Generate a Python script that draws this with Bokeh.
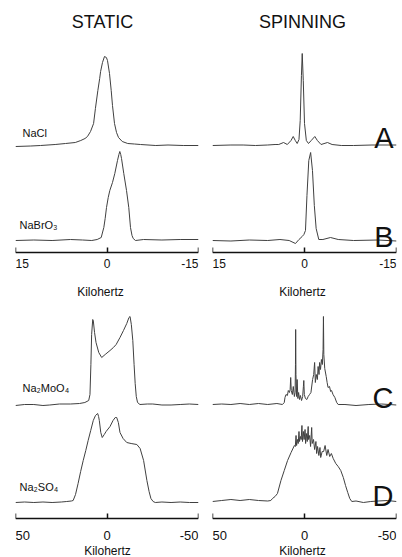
from bokeh.plotting import figure
from bokeh.models import Range1d, FixedTicker, Label, LinearAxis
from bokeh.layouts import column, row
from bokeh.embed import file_html
from bokeh.resources import INLINE

# ---------------- data (kHz, intensity above own baseline) ----------------
nacl_static_khz = [15, 12.5, 10.9, 8.5, 6.8, 5.2, 4.3, 3.6, 3.2, 2.7, 2.2, 1.9, 1.5, 1.2, 1.05, 0.74, 0.41, 0.1, -0.08, -0.41,
                   -0.69, -0.9, -1.23, -1.56, -1.89, -2.5, -3.4, -4.5, -5.5, -8, -10, -12.5, -15]
nacl_static_int = [0, 0.5, 1, 2, 3, 4, 6, 8, 10, 15, 23, 38, 56, 68, 75, 84, 90, 89, 86, 73,
                   56, 41, 23, 14, 9, 5, 3, 2.5, 2, 1, 1.5, 1, 1]

nabro3_static_khz = [15, 12, 9, 6, 4, 2.5, 1.61, 0.95, 0.52, 0.3, 0.08, -0.2, -0.46, -0.9, -1.28, -1.72, -1.95, -2.1, -2.25, -2.38,
                     -2.75, -3.2, -3.57, -3.85, -4.1, -4.3, -4.67, -6, -9, -12, -15]
nabro3_static_int = [0, 0.5, 0, 1, 0.5, 0, 1, 3, 13, 22, 33, 43, 50, 58, 67, 80, 86, 89, 86, 82,
                     67, 50, 33, 13, 5, 2, 0, 1, 0.5, 1, 1]

nacl_spin_khz = [15, 12, 10, 8, 6, 4.8, 4.2, 3.42, 2.8, 2.2, 1.84, 1.5, 1.19, 0.9, 0.7, 0.5, 0.37, 0.2, 0.0, -0.3,
                 -0.65, -1.1, -1.68, -2.1, -2.7, -3.75, -4.5, -6, -8, -11, -15]
nacl_spin_int = [0, 0.5, 0.5, 0, 0.5, 1, 1, 3, 1, 5, 9, 5, 2, 6, 25, 70, 92, 65, 22, 5,
                 2, 5, 9, 5, 1, 3, 1, 0, 0, 0.5, 0.5]

nabro3_spin_khz = [15, 12, 9, 6, 4, 2.5, 1.47, 0.9, 0.38, 0.1, -0.16, -0.4, -0.7, -1.0, -1.3, -1.6, -1.9, -2.33, -3.0, -4.24,
                   -5.5, -8, -12, -15]
nabro3_spin_int = [0, -0.5, 0.5, 0, 1, 0, -3, 1, 4, 6, 10, 45, 80, 88, 70, 35, 12, 1, 1, 3,
                   1, 0, 0.5, -0.5]

na2moo4_static_khz = [50, 45, 40, 35, 31.3, 26, 20, 15, 12.1, 10, 9.3, 8.8, 8.4, 7.8, 7.5, 6.8, 6.0, 4.5, 2.9, 1.0,
                      -1.65, -3.5, -5, -7.1, -9, -10.8, -12, -12.6, -13.3, -14.1, -14.8, -15.4, -16, -16.7, -18, -22, -25, -30, -35, -40,
                      -45, -50]
na2moo4_static_int = [-1, 0, 0, -1, -0.5, 0.5, 0.5, 1, 2, 4, 10, 40, 70, 85, 84, 72, 62, 52, 47, 50,
                      54, 57, 60, 67, 74, 81, 87, 88, 80, 64, 40, 21, 8, 2, 0, 0.5, 0.5, -0.5, -0.5, 0,
                      0.5, 0]

na2so4_static_khz = [50, 45, 40, 35, 30, 25, 22, 19.5, 18.5, 17.2, 15.8, 14.4, 13.0, 11.6, 10.3, 8.9, 7.5, 6.3, 5.1, 4.6,
                     4.2, 3.4, 2.6, 1.5, 0.5, -1.65, -3.3, -4.5, -5.3, -6.2, -7.1, -8.8, -10.8, -13.2, -16.3, -18.1, -20.0, -21.8, -23, -24.0,
                     -25.2, -26.4, -30, -35, -40, -45, -50]
na2so4_static_int = [0, 0.5, 0, 0.5, 0, 0.5, 1, 1.5, 2, 8, 19, 31, 42, 52, 62, 72, 82, 87, 89, 86,
                     82, 70, 65, 68, 71, 76, 82, 85, 85, 80, 70, 64, 60, 59, 58, 54, 42, 22, 11, 4,
                     1, 0, 0.5, 0, 0.5, 0, 0]

na2moo4_spin_khz = [50, 45, 40, 35, 30, 25, 20, 15, 12, 11, 10.6, 10.05, 9.3, 8.8, 8.2, 7.8, 7.5, 7.2, 6.6, 6.1,
                    5.5, 5.1, 4.9, 4.8, 4.65, 4.3, 4.0, 3.6, 3.2, 2.7, 2.2, 1.6, 1.0, 0.6, 0.38, 0.1, -0.5, -1.27, -2.0, -2.75,
                    -3.5, -4.4, -5.0, -5.5, -5.9, -6.4, -7.0, -7.4, -7.9, -8.2, -8.7, -9.2, -9.7, -10.1, -10.3, -10.5, -11.0, -11.8, -12.3, -12.8,
                    -13.6, -14.2, -14.7, -15.5, -16.5, -17.5, -18.3, -22, -28, -35, -42, -50]
na2moo4_spin_int = [0, 0.5, 0, 1, 0, 1, 0, 1, 0, 2, 7, 10, 9, 14, 12, 15, 27, 14, 10, 18,
                    8, 12, 40, 75, 30, 8, 25, 6, 12, 5, 9, 4, 8, 18, 24, 10, 6, 5, 8, 10,
                    12, 25, 30, 42, 22, 30, 25, 38, 30, 42, 35, 45, 40, 55, 88, 50, 36, 28, 22, 17,
                    18, 13, 14, 10, 7, 2, 0, 0, -1, 0, 0.5, -0.5]

na2so4_spin_khz = [50, 45, 40, 35, 30, 25, 20, 18.3, 17.4, 16, 14.7, 12.8, 11, 9.2, 7.3, 5.5, 5.0, 4.6, 4.3, 3.8,
                   3.4, 3.0, 2.7, 2.2, 1.8, 1.4, 1.1, 0.6, 0.2, -0.3, -0.6, -1.0, -1.5, -2.0, -2.2, -2.8, -3.3, -3.9, -4.2, -4.9,
                   -5.5, -6.2, -6.6, -7.1, -7.8, -8.4, -8.8, -9.6, -10.4, -11.2, -12.1, -12.8, -13.7, -14.6, -15.6, -17, -18.3, -19.7, -21.1, -22.3,
                   -23.5, -24.6, -25.7, -28, -32, -36, -40, -45, -50]
na2so4_spin_int = [0, 1, 2, 1, 2, 1, 0.5, 1, 3, 5, 8, 21, 31, 41, 49, 56, 55, 66, 56, 62,
                   58, 70, 60, 65, 62, 76, 60, 70, 62, 72, 58, 68, 60, 75, 62, 66, 55, 74, 58, 62,
                   52, 60, 48, 55, 46, 54, 44, 50, 50, 56, 46, 52, 45, 48, 43, 38, 35, 31, 24, 16,
                   9, 3, 0, 0.5, -1, 0, 0.5, 1, 0]

top_ticks = [15, 0, -15]
top_tick_labels = ["15", "0", "-15"]
bot_ticks = [50, 0, -50]
bot_tick_labels = ["50", "0", "-50"]

column_titles = ["STATIC", "SPINNING"]
compounds = ["NaCl", "NaBrO\u2083", "Na\u2082MoO\u2084", "Na\u2082SO\u2084"]
letters = ["A", "B", "C", "D"]
axis_title = "Kilohertz"

# ---------------- styling / layout ----------------
FONT = "Liberation Sans"
INK = "#111111"
TRACE = "#404040"


def panel(width, height, span, ylo, yhi, ticks, tick_labels, bl, br, tick_y, tick_size, kx, ky):
    p = figure(width=width, height=height, x_range=Range1d(span, -span), y_range=Range1d(ylo, yhi),
               output_backend="svg", toolbar_location=None, x_axis_location=None, y_axis_location=None,
               min_border_left=bl, min_border_right=br, min_border_top=0, min_border_bottom=0)
    p.outline_line_color = None
    p.grid.visible = False
    p.background_fill_color = "white"
    p.border_fill_color = "white"
    ax = LinearAxis(fixed_location=0, ticker=FixedTicker(ticks=ticks))
    ax.axis_line_width = 1.6
    ax.axis_line_color = INK
    ax.major_tick_in = 5
    ax.major_tick_out = 0
    ax.major_tick_line_width = 1.5
    ax.major_tick_line_color = INK
    ax.minor_tick_line_color = None
    ax.major_label_text_alpha = 0
    ax.major_label_text_font_size = "1px"
    p.add_layout(ax, "below")
    for t, s, a in zip(ticks, tick_labels, ["left", "center", "right"]):
        p.add_layout(Label(x=t, y=tick_y, x_units="data", y_units="data", text=s, text_align=a,
                           text_baseline="middle", text_font=FONT, text_font_size=tick_size,
                           text_color=INK))
    p.add_layout(Label(x=kx, y=ky, x_units="screen", y_units="data", text=axis_title,
                       text_align="center", text_baseline="middle", text_font=FONT,
                       text_font_size="12px", text_color=INK))
    return p


def trace(p, xs, ys, base):
    p.line(x=xs, y=[v + base for v in ys], line_color=TRACE, line_width=1.0)


def tag(p, text, x, y, size, align="left", baseline="alphabetic"):
    p.add_layout(Label(x=x, y=y, x_units="screen", y_units="data", text=text, text_align=align,
                       text_baseline=baseline, text_font=FONT, text_font_size=size, text_color=INK))


# top row: y data = 252 - page y; frames at x 15-198 and 212-396
tl = panel(205, 298, 15, -46, 252, top_ticks, top_tick_labels, 15, 7, -10.5, "12px", 85, -39)
tr = panel(196, 298, 15, -46, 252, top_ticks, top_tick_labels, 7, 5, -10.5, "12px", 90, -39)
# bottom row: y data = 518 - page y
bl = panel(205, 258, 50, -38, 220, bot_ticks, bot_tick_labels, 15, 7, -16.5, "13px", 92, -32)
br = panel(196, 258, 50, -38, 220, bot_ticks, bot_tick_labels, 7, 5, -16.5, "13px", 90, -32)

trace(tl, nacl_static_khz, nacl_static_int, 106)
trace(tl, nabro3_static_khz, nabro3_static_int, 12)
trace(tr, nacl_spin_khz, nacl_spin_int, 107)
trace(tr, nabro3_spin_khz, nabro3_spin_int, 12)
trace(bl, na2moo4_static_khz, na2moo4_static_int, 114)
trace(bl, na2so4_static_khz, na2so4_static_int, 16)
trace(br, na2moo4_spin_khz, na2moo4_spin_int, 114)
trace(br, na2so4_spin_khz, na2so4_spin_int, 17)

# column titles
tag(tl, column_titles[0], 87, 231, "18px", "center", "middle")
tag(tr, column_titles[1], 90, 231, "18px", "center", "middle")

# compound names
tag(tl, compounds[0], 7, 120, "11px")
tag(tl, compounds[1], 4, 28, "11px")
tag(bl, compounds[2], 7, 131, "11px")
tag(bl, compounds[3], 4, 32, "11px")

# panel letters
tag(tr, letters[0], 181, 115, "29px", "right")
tag(tr, letters[1], 181, 16, "29px", "right")
tag(br, letters[2], 181, 121, "29px", "right")
tag(br, letters[3], 181, 23, "29px", "right")

layout = column(row(tl, tr), row(bl, br))
open("out.html", "w").write(file_html(layout, INLINE))
